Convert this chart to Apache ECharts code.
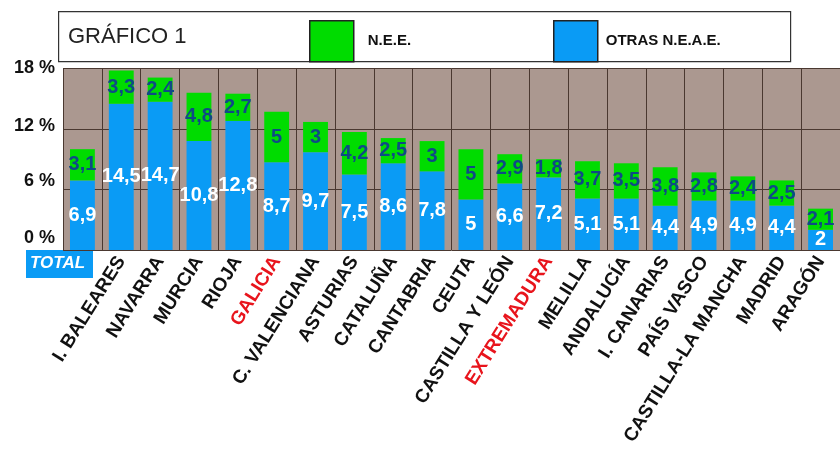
<!DOCTYPE html>
<html>
<head>
<meta charset="utf-8">
<script src="https://cdn.jsdelivr.net/npm/echarts@6/dist/echarts.min.js"></script>
<style>
html,body{margin:0;padding:0;background:#fff;}
#chart{width:840px;height:458px;}
</style>
</head>
<body>
<div id="chart"></div>
<script>
const categories = ['TOTAL','I. BALEARES','NAVARRA','MURCIA','RIOJA','GALICIA','C. VALENCIANA','ASTURIAS','CATALUÑA','CANTABRIA','CEUTA','CASTILLA Y LEÓN','EXTREMADURA','MELILLA','ANDALUCÍA','I. CANARIAS','PAÍS VASCO','CASTILLA-LA MANCHA','MADRID','ARAGÓN'];
const otrasNEAE = [6.9,14.5,14.7,10.8,12.8,8.7,9.7,7.5,8.6,7.8,5,6.6,7.2,5.1,5.1,4.4,4.9,4.9,4.4,2];
const nee = [3.1,3.3,2.4,4.8,2.7,5,3,4.2,2.5,3,5,2.9,1.8,3.7,3.5,3.8,2.8,2.4,2.5,2.1];
const highlighted = ['GALICIA','EXTREMADURA'];
const yTicks = [0,6,12,18];

const FONT = "'Liberation Sans', Arial, Helvetica, sans-serif";
const BLUE = '#0a9bf5', GREEN = '#00dc00', GRIDC = '#4a3830';
const fmt = v => String(v).replace('.', ',');

const chart = echarts.init(document.getElementById('chart'), null, {renderer:'canvas'});
const yPad = {0:24, 6:16, 12:5, 18:0};
const rich = {};
yTicks.forEach(t => { rich['l'+t] = {fontFamily:FONT, fontWeight:'bold', fontSize:18, color:'#111', padding:[0,0,yPad[t],0]}; });

chart.setOption({
  animation:false,
  backgroundColor:'#fff',
  title:{text:'GRÁFICO 1', left:63, top:21, textStyle:{fontFamily:FONT, fontWeight:'normal', fontSize:22, color:'#222'}},
  legend:[
    {data:['N.E.E.'], left:304, top:15, itemWidth:44, itemHeight:41, icon:'rect',
     itemStyle:{borderColor:'#222', borderWidth:1.5},
     textStyle:{fontFamily:FONT, fontWeight:'bold', fontSize:15, color:'#111', padding:[0,0,0,9]}},
    {data:['OTRAS N.E.A.E.'], left:548, top:15, itemWidth:44, itemHeight:41, icon:'rect',
     itemStyle:{borderColor:'#222', borderWidth:1.5},
     textStyle:{fontFamily:FONT, fontWeight:'bold', fontSize:15, color:'#111', padding:[0,0,0,3]}}
  ],
  graphic:[
    {type:'rect', left:58, top:11, shape:{width:732, height:50}, style:{fill:'rgba(0,0,0,0)', stroke:'#333', lineWidth:1.2}, z:-1},
    {type:'rect', left:26, top:250, shape:{width:67, height:28}, style:{fill:BLUE}},
    {type:'text', left:30, top:255, style:{text:'TOTAL', fill:'#fff', font:"italic bold 17px "+FONT}}
  ],
  grid:{left:63, top:68.5, width:784, height:181.5, show:true, backgroundColor:'#ab9890', borderWidth:0},
  xAxis:{
    type:'category',
    data:categories.map(c => highlighted.includes(c) ? {value:c, textStyle:{color:'#e8141c'}} : c),
    axisLine:{show:false}, axisTick:{show:false},
    splitLine:{show:true, lineStyle:{color:GRIDC, width:1}},
    axisLabel:{rotate:58, margin:8, interval:0, fontFamily:FONT, fontWeight:'bold', fontSize:19, color:'#111',
      formatter: v => v === 'TOTAL' ? '' : v}
  },
  yAxis:{
    type:'value', min:0, max:18, interval:6,
    axisLine:{show:false}, axisTick:{show:false},
    splitLine:{show:true, lineStyle:{color:GRIDC, width:1}},
    axisLabel:{margin:8, formatter: v => '{l'+v+'|'+v+' %}', rich:rich}
  },
  series:[
    {name:'OTRAS N.E.A.E.', type:'bar', stack:'a', data:otrasNEAE, barWidth:'64%',
     itemStyle:{color:BLUE},
     label:{show:true, position:'inside', formatter:p => fmt(p.value), color:'#fff', fontFamily:FONT, fontWeight:'bold', fontSize:20}},
    {name:'N.E.E.', type:'bar', stack:'a', data:nee, barWidth:'64%',
     itemStyle:{color:GREEN},
     label:{show:true, position:'inside', formatter:p => fmt(p.value), color:'#0f4a85', fontFamily:FONT, fontWeight:'bold', fontSize:20}}
  ]
});
</script>
</body>
</html>
